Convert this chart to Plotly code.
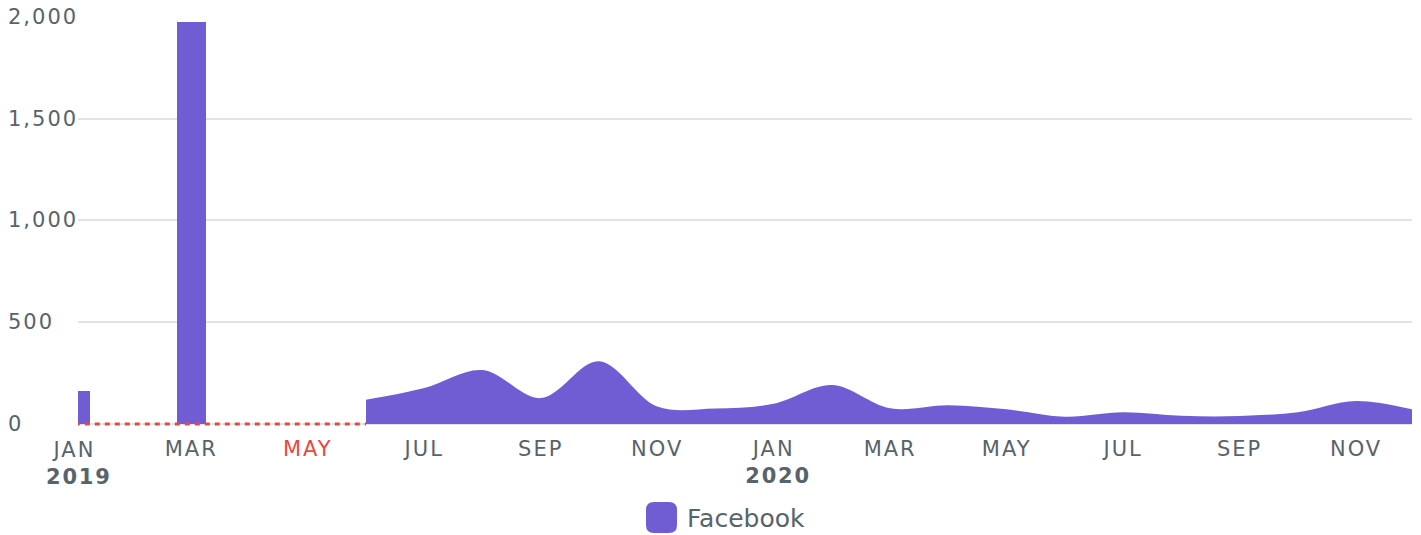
import plotly.graph_objects as go

# ---------------- data ----------------
months = ["2019-01", "2019-02", "2019-03", "2019-04", "2019-05", "2019-06",
          "2019-07", "2019-08", "2019-09", "2019-10", "2019-11", "2019-12",
          "2020-01", "2020-02", "2020-03", "2020-04", "2020-05", "2020-06",
          "2020-07", "2020-08", "2020-09", "2020-10", "2020-11", "2020-12"]

bar_months = ["2019-01", "2019-03"]
bar_values = [160, 1975]

area_months = ["2019-06", "2019-07", "2019-08", "2019-09", "2019-10",
               "2019-11", "2019-12", "2020-01", "2020-02", "2020-03",
               "2020-04", "2020-05", "2020-06", "2020-07", "2020-08",
               "2020-09", "2020-10", "2020-11", "2020-12"]
area_values = [119, 177, 265, 127, 308, 86, 76, 99, 191, 77,
               92, 72, 36, 58, 40, 39, 58, 113, 69]

gap_months = ["2019-01", "2019-06"]
gap_values = [0, 0]

tick_months = ["2019-01", "2019-03", "2019-05", "2019-07", "2019-09", "2019-11",
               "2020-01", "2020-03", "2020-05", "2020-07", "2020-09", "2020-11"]
tick_labels = ["JAN", "MAR", "MAY", "JUL", "SEP", "NOV",
               "JAN", "MAR", "MAY", "JUL", "SEP", "NOV"]
tick_years = ["2019", "", "", "", "", "", "2020", "", "", "", "", ""]
highlight_month = "2019-05"

y_ticks = [0, 500, 1000, 1500, 2000]
y_labels = ["0", "500", "1,000", "1,500", "2,000"]

series_name = "Facebook"

# ---------------- style ----------------
PURPLE = "#705dd3"
RED = "#e8493f"
GREY = "#58636a"
GRID = "#e1e4e5"
FONT = "DejaVu Sans"
LS = "letter-spacing:2px"
X_RANGE = [0.055, 22.96]
Y_RANGE = [-10, 2000]


def tick_text(m, lab, yr):
    style = LS + (";color:" + RED if m == highlight_month else "")
    t = f'<span style="{style}">{lab}</span>'
    if yr:
        # year sits a little right of the month name (negative advance on last digit)
        t += ('<br><b><span style="letter-spacing:1.8px">' + yr[:-1] + '</span>'
              '<span style="letter-spacing:-7px">' + yr[-1] + '</span></b>')
    return t


x_text = [tick_text(m, l, y) for m, l, y in zip(tick_months, tick_labels, tick_years)]

fig = go.Figure()

fig.add_trace(go.Bar(
    x=bar_months, y=bar_values, name=series_name,
    marker=dict(color=PURPLE, line=dict(width=0)),
    width=0.505, showlegend=False,
))
fig.add_trace(go.Scatter(
    x=area_months, y=area_values, name=series_name,
    mode="lines", line=dict(shape="spline", width=0, color=PURPLE),
    fill="tozeroy", fillcolor=PURPLE, showlegend=False,
))
fig.add_trace(go.Scatter(
    x=gap_months, y=gap_values, mode="lines",
    line=dict(color=RED, width=3, dash="5px,5px"),
    showlegend=False, hoverinfo="skip",
))

# figure is placed at an 8px body margin in the page
W, H = 1421, 535
L, R, T = 70, 17, 9
PH = 409
B = H - T - PH
pw = W - L - R


def px_x(X):
    return (X - L) / pw


def px_y(Y):
    return (H - B - Y) / PH


# y tick labels (left aligned at the figure edge)
for v, lab in zip(y_ticks, y_labels):
    fig.add_annotation(
        text=f'<span style="{LS}">{lab}</span>', xref="paper", yref="y",
        x=0, y=v, xanchor="left", yanchor="middle", xshift=-72,
        showarrow=False, font=dict(family=FONT, size=21, color=GREY),
    )

# first month sits just left of the visible range: its label as annotation
first_idx = months.index(tick_months[0])
fig.add_annotation(
    text=x_text[0], xref="paper", yref="paper",
    x=(first_idx - X_RANGE[0]) / (X_RANGE[1] - X_RANGE[0]),
    y=px_y(428.5), xanchor="center", yanchor="top", xshift=2.5,
    showarrow=False, font=dict(family=FONT, size=21, color=GREY),
)

# manual legend: rounded square + label
r = 8
s = 15.5
path = (f"M{-s},{-s + r} Q{-s},{-s} {-s + r},{-s} L{s - r},{-s} Q{s},{-s} {s},{-s + r} "
        f"L{s},{s - r} Q{s},{s} {s - r},{s} L{-s + r},{s} Q{-s},{s} {-s},{s - r} Z")
fig.add_shape(
    type="path", path=path, xref="paper", yref="paper",
    xsizemode="pixel", ysizemode="pixel",
    xanchor=px_x(653.5), yanchor=px_y(509.5),
    fillcolor=PURPLE, line=dict(width=0), layer="above",
)
fig.add_annotation(
    text=series_name, xref="paper", yref="paper",
    x=px_x(677), y=px_y(510.5), xanchor="left", yanchor="middle",
    showarrow=False, font=dict(family=FONT, size=25, color=GREY),
)

fig.update_layout(
    width=W, height=H,
    margin=dict(l=L, r=R, t=T, b=B, pad=0),
    paper_bgcolor="white", plot_bgcolor="white",
    font=dict(family=FONT, color=GREY),
    showlegend=False,
    bargap=0,
    xaxis=dict(
        type="category", categoryorder="array", categoryarray=months,
        range=X_RANGE,
        tickmode="array", tickvals=tick_months[1:], ticktext=x_text[1:],
        tickfont=dict(family=FONT, size=21, color=GREY),
        showgrid=False, zeroline=False, showline=False, ticks="",
        ticklabelstandoff=8,
    ),
    yaxis=dict(
        range=Y_RANGE,
        tickvals=y_ticks, showticklabels=False,
        showgrid=True, gridcolor=GRID, gridwidth=2,
        zeroline=True, zerolinecolor=GRID, zerolinewidth=2,
        showline=False, ticks="",
    ),
)

fig.write_html("out.html")
